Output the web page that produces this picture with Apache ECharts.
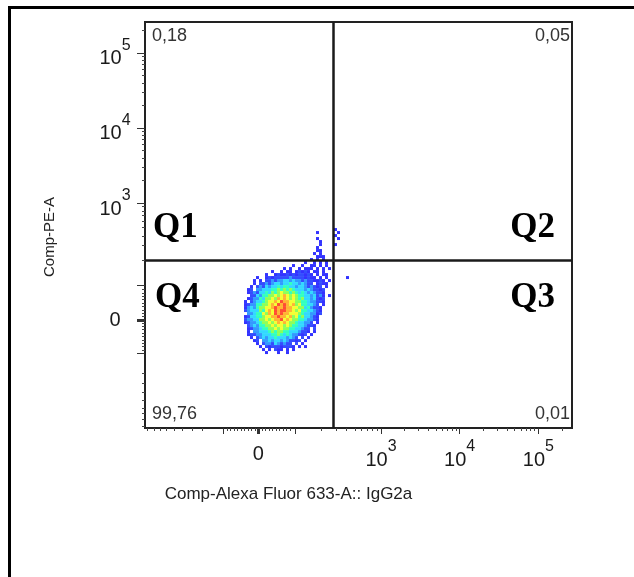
<!DOCTYPE html>
<html><head><meta charset="utf-8">
<script src="https://cdn.jsdelivr.net/npm/echarts@6/dist/echarts.min.js"></script>
<style>html,body{margin:0;padding:0;background:#fff}#c{width:634px;height:577px}</style>
</head><body><div id="c"></div>
<script>
// ---- Axis (biexponential display units: 10^3 = 3, 10^4 = 4, 10^5 = 5) ----
const X_MAX = 5.428;
const Y_MAX = 5.413;
const TICK_VALUES = [1.44, 3, 4, 5];
const TICK_LABELS = ['0', '10^3', '10^4', '10^5'];
const LONG_TICKS = [0.99, 1.425, 1.44, 1.455, 1.905, 3, 4, 5];
const BIEX_MINOR_TICKS = [0.025, 0.114, 0.191, 0.267, 0.369, 0.47, 0.597, 0.725,
  1.04, 1.085, 1.13, 1.175, 1.22, 1.265, 1.31, 1.355, 1.40,
  1.485, 1.53, 1.575, 1.62, 1.665, 1.71, 1.755, 1.8, 1.85,
  2.235, 2.43, 2.56, 2.67, 2.755, 2.83, 2.89, 2.95];
const LOG_DECADES = [3, 4, 5];
const X_NAME = 'Comp-Alexa Fluor 633-A:: IgG2a';
const Y_NAME = 'Comp-PE-A';

// ---- Quadrant gate ----
const GATE_X = 2.39;
const GATE_Y = 2.227;
const QUAD_NAMES = ['Q1', 'Q2', 'Q3', 'Q4'];
const QUAD_PCT = ['0,18', '0,05', '0,01', '99,76'];

// ---- Density cells, levels 1..9 ----
const CELL_X0 = 1.2775, CELL_DX = 0.03813;
const CELL_Y0 = 2.646, CELL_DY = 0.04;
const LEVEL_COLORS = ['#0000ff', '#0020ff', '#0080ff', '#00d0ff', '#00ffb0', '#70ff30', '#f0ff00', '#ffa000', '#ff2000'];
const DENSITY_ROWS = [
  "..............................1",
  "........................1......1",
  "..............................1",
  "........................1......1",
  ".........................1",
  ".........................1....1",
  "........................1",
  "........................11",
  ".......................1.1",
  "........................111",
  "......................1.1.1",
  "....................1..1.1.1",
  "................1..1..11.1.1",
  ".............1.1..1.111.1.1.1",
  ".........1..1.11.12121.11.1",
  ".......1..1211212122121.1.11",
  "....1..12122222322221211.1.1......1",
  "...1.1.22323344343323221121.1",
  "...1.223234434454434322.1211",
  "..1.2324344545544344323212.1",
  ".12.33444556565654443432212",
  ".12324454656766565454343221",
  "..2243556676787676554434231.1",
  ".12335466768787676564434212",
  "1.2344567787988776655433221",
  "1233556678798987867554432.1",
  "13435667789889887766453221",
  "23444657879899887675544321",
  ".3345576879898877765443312",
  "1244556778898878675644321",
  "2334466767889787665543321",
  "12334566767878766544332.1",
  ".23435566767767655443221",
  ".123345566767665544322.2",
  ".1.3344456566554443221.1",
  ".12233444556545433212.1",
  "..1.23434454443432.2.1",
  "...12.3343443432212.1",
  "....1.2332432322.2.1",
  ".....1.2122212221.1.1",
  "......1.1.211.1.1",
  ".......1...1..1"
];

const cells = [];
DENSITY_ROWS.forEach((row, r) => {
  for (let c = 0; c < row.length; c++) {
    const ch = row[c];
    if (ch >= '1' && ch <= '9') cells.push([CELL_X0 + c * CELL_DX, CELL_Y0 - r * CELL_DY, +ch]);
  }
});

const minorTicks = (max) => {
  const t = BIEX_MINOR_TICKS.slice();
  LOG_DECADES.forEach(k => { for (let m = 2; m <= 9; m++) { const v = k + Math.log10(m); if (v < max) t.push(v); } });
  return t;
};

const FONT = '"Liberation Sans", Arial, sans-serif';
function tickFormatter(v) {
  let i = 0, best = 1e9;
  TICK_VALUES.forEach((tv, j) => { const d = Math.abs(tv - v); if (d < best) { best = d; i = j; } });
  const lab = TICK_LABELS[i];
  if (lab.indexOf('^') < 0) return '{z|' + lab + '}';
  const p = lab.split('^');
  return '{b|' + p[0] + '}{s|' + p[1] + '}';
}
const RICH = {
  b: { fontSize: 20, lineHeight: 20, padding: [12, 0, 0, 0], color: '#1a1a1a', fontFamily: FONT },
  s: { fontSize: 16, lineHeight: 16, padding: [0, 0, 14, 0], color: '#1a1a1a', fontFamily: FONT },
  z: { fontSize: 20, lineHeight: 20, color: '#1a1a1a', fontFamily: FONT }
};

function mainAxis(max, isX) {
  return {
    type: 'value', min: 0, max: max, position: isX ? 'bottom' : 'left',
    axisLine: { show: true, onZero: false, lineStyle: { color: '#222', width: 2 } },
    axisTick: { show: true, customValues: LONG_TICKS, length: isX ? 6 : 8, lineStyle: { color: '#333', width: 1 } },
    axisLabel: isX
      ? { customValues: TICK_VALUES, formatter: tickFormatter, rich: RICH, margin: 16 }
      : { customValues: TICK_VALUES, formatter: tickFormatter, rich: RICH, margin: 30, align: 'center' },
    splitLine: { show: false },
    name: isX ? X_NAME : Y_NAME,
    nameLocation: 'middle',
    nameGap: isX ? 58 : 88,
    nameTextStyle: isX
      ? { fontSize: 17, fontFamily: FONT, color: '#222', padding: [0, 140, 0, 0] }
      : { fontSize: 15, fontFamily: FONT, color: '#222', padding: [0, 24, 0, 0] }
  };
}
function minorAxis(max, isX) {
  return {
    type: 'value', min: 0, max: max, position: isX ? 'bottom' : 'left',
    axisLine: { show: false, onZero: false },
    axisTick: { show: true, customValues: minorTicks(max), length: 3, lineStyle: { color: '#444', width: 1 } },
    axisLabel: { show: false },
    splitLine: { show: false }
  };
}

const QFONT = '"Liberation Serif", "Times New Roman", serif';
const chart = echarts.init(document.getElementById('c'), null, { renderer: 'canvas' });
chart.setOption({
  animation: false,
  backgroundColor: '#fff',
  grid: { left: 145, right: 62, top: 22, bottom: 149, show: true, borderColor: '#222', borderWidth: 2, backgroundColor: 'transparent' },
  xAxis: [mainAxis(X_MAX, true), minorAxis(X_MAX, true)],
  yAxis: [mainAxis(Y_MAX, false), minorAxis(Y_MAX, false)],
  visualMap: {
    type: 'piecewise', show: false, dimension: 2, seriesIndex: 0,
    pieces: LEVEL_COLORS.map((c, i) => ({ value: i + 1, color: c }))
  },
  series: [{
    type: 'scatter', xAxisIndex: 0, yAxisIndex: 0,
    symbol: 'rect', symbolSize: 3, data: cells, silent: true,
    markLine: {
      silent: true, symbol: 'none', label: { show: false },
      lineStyle: { color: '#1a1a1a', width: 2.5, type: 'solid' },
      data: [{ xAxis: GATE_X }, { yAxis: GATE_Y }]
    }
  }],
  graphic: [
    { type: 'polyline', shape: { points: [[9.5, 700], [9.5, 7.5], [700, 7.5]] }, style: { stroke: '#000', lineWidth: 3, fill: null } },
    { type: 'text', x: 152, y: 27, style: { text: QUAD_PCT[0], fontSize: 18, fontFamily: FONT, fill: '#333', align: 'left', verticalAlign: 'top' } },
    { type: 'text', x: 570, y: 27, style: { text: QUAD_PCT[1], fontSize: 18, fontFamily: FONT, fill: '#333', align: 'right', verticalAlign: 'top' } },
    { type: 'text', x: 570, y: 405, style: { text: QUAD_PCT[2], fontSize: 18, fontFamily: FONT, fill: '#333', align: 'right', verticalAlign: 'top' } },
    { type: 'text', x: 152, y: 405, style: { text: QUAD_PCT[3], fontSize: 18, fontFamily: FONT, fill: '#333', align: 'left', verticalAlign: 'top' } },
    { type: 'text', x: 153, y: 228, style: { text: QUAD_NAMES[0], fontSize: 35, fontWeight: 'bold', fontFamily: QFONT, fill: '#000', align: 'left', verticalAlign: 'middle' } },
    { type: 'text', x: 555, y: 228, style: { text: QUAD_NAMES[1], fontSize: 35, fontWeight: 'bold', fontFamily: QFONT, fill: '#000', align: 'right', verticalAlign: 'middle' } },
    { type: 'text', x: 555, y: 298, style: { text: QUAD_NAMES[2], fontSize: 35, fontWeight: 'bold', fontFamily: QFONT, fill: '#000', align: 'right', verticalAlign: 'middle' } },
    { type: 'text', x: 155, y: 298, style: { text: QUAD_NAMES[3], fontSize: 35, fontWeight: 'bold', fontFamily: QFONT, fill: '#000', align: 'left', verticalAlign: 'middle' } }
  ]
});
</script></body></html>
